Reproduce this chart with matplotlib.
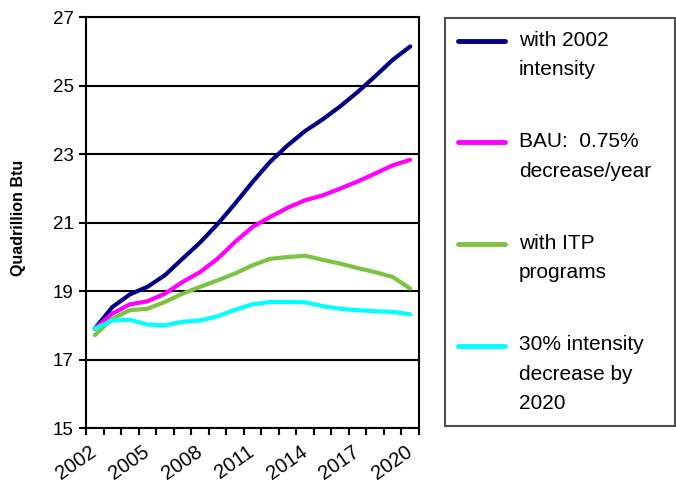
import matplotlib
matplotlib.use("Agg")
import matplotlib.pyplot as plt
import numpy as np
from matplotlib.legend_handler import HandlerLine2D

plt.rcParams["font.family"] = ["Liberation Sans", "DejaVu Sans"]

years = list(range(2002, 2021))
with_2002_intensity = [17.90, 18.53, 18.90, 19.12, 19.46, 19.94, 20.41, 20.95, 21.55, 22.18,
                       22.77, 23.25, 23.67, 24.01, 24.39, 24.81, 25.27, 25.75, 26.14]
bau = [17.90, 18.34, 18.61, 18.70, 18.92, 19.26, 19.55, 19.94, 20.43, 20.87,
       21.16, 21.43, 21.65, 21.79, 21.99, 22.20, 22.43, 22.67, 22.83]
with_itp = [17.71, 18.19, 18.44, 18.48, 18.68, 18.92, 19.12, 19.31, 19.51, 19.75,
            19.94, 19.99, 20.03, 19.91, 19.80, 19.67, 19.55, 19.41, 19.07]
intensity_30 = [17.90, 18.14, 18.16, 18.02, 18.00, 18.10, 18.14, 18.26, 18.45, 18.61,
                18.68, 18.68, 18.67, 18.56, 18.48, 18.44, 18.41, 18.39, 18.32]

series = [
    (with_2002_intensity, "with 2002\nintensity", "#000080"),
    (bau, "BAU:  0.75%\ndecrease/year", "#FF00FF"),
    (with_itp, "with ITP\nprograms", "#7DC242"),
    (intensity_30, "30% intensity\ndecrease by\n2020", "#00FFFF"),
]

LINE_PITCH = 1.36  # legend text baseline-to-baseline, in font sizes


class FirstLineHandler(HandlerLine2D):
    # legend line sits beside the first text line (matplotlib centres it otherwise)
    def __init__(self, n_lines, **kw):
        super().__init__(**kw)
        self.n_lines = n_lines

    def create_artists(self, legend, orig_handle, xdescent, ydescent,
                       width, height, fontsize, trans):
        artists = super().create_artists(legend, orig_handle, xdescent, ydescent,
                                         width, height, fontsize, trans)
        shift = (self.n_lines - 1) / 2 * LINE_PITCH * fontsize
        for a in artists:
            a.set_ydata(np.asarray(a.get_ydata()) + shift)
        return artists


fig = plt.figure(figsize=(6.76, 4.83), dpi=100)
ax = fig.add_axes([86 / 676, 1 - 428 / 483, (419 - 86) / 676, (428 - 17) / 483])

x = np.arange(len(years))
handles = []
for vals, label, color in series:
    (ln,) = ax.plot(x, vals, color=color, linewidth=3.0, label=label,
                    solid_joinstyle="round", solid_capstyle="round", zorder=3)
    handles.append(ln)

ax.set_xlim(-0.5, len(years) - 0.5)
ax.set_ylim(15, 27)
ax.set_yticks(range(15, 28, 2))
ax.yaxis.grid(True, color="black", linewidth=1.5)
ax.set_axisbelow(True)

label_idx = list(range(0, len(years), 3))
ax.set_xticks(label_idx)
ax.set_xticklabels([str(years[i]) for i in label_idx], rotation=35,
                   ha="right", va="center", rotation_mode="anchor")
ax.set_xticks(np.arange(-0.5, len(years)), minor=True)
ax.tick_params(axis="x", which="major", length=0, pad=16, labelsize=14.5)
ax.tick_params(axis="x", which="minor", length=5, width=1.5, direction="out")
ax.tick_params(axis="y", length=5, width=1.5, direction="out", labelsize=13.5, pad=4)
for side in ["left", "right", "top", "bottom"]:
    ax.spines[side].set_linewidth(1.5)
    ax.spines[side].set_color("black")

fig.text(19 / 676, 1 - 218 / 483, "Quadrillion Btu", rotation=90, fontsize=11.5,
         fontweight="bold", ha="center", va="center")

handler_map = {h: FirstLineHandler(h.get_label().count("\n") + 1) for h in handles}
leg = ax.legend(handles=handles, handler_map=handler_map,
                loc="upper left", bbox_to_anchor=(445 / 676, 1 - 18 / 483, 230 / 676, 0),
                bbox_transform=fig.transFigure, mode="expand",
                fontsize=15, frameon=True, fancybox=False,
                borderpad=0.6, handlelength=2.3, handletextpad=0.65,
                labelspacing=2.55, borderaxespad=0)
leg.get_frame().set_edgecolor("#222222")
leg.get_frame().set_linewidth(1.5)
for t in leg.get_texts():
    t.set_linespacing(1.7)
for ln in leg.get_lines():
    ln.set_linewidth(3.5)

fig.savefig("out.png", dpi=100)
